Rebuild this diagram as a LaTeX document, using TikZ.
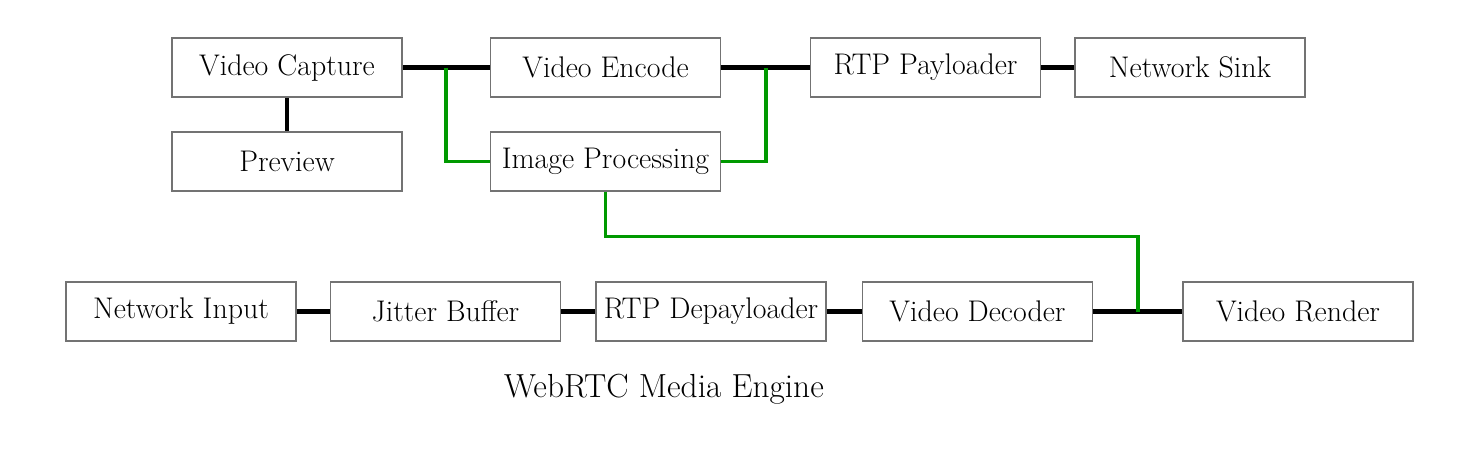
\documentclass[tikz,border=0pt]{standalone}
\usepackage{fontspec}
\begin{document}
\begin{tikzpicture}[x=0.02cm,y=-0.02cm,
  blk/.style={draw=black!55,line width=0.9pt,minimum width=4.6cm,minimum height=1.18cm,inner sep=0pt,font=\fontsize{17}{20}\selectfont},
  conn/.style={line width=2.4pt,black},
  gconn/.style={line width=1.8pt,green!60!black}]
\useasboundingbox (0,0) rectangle (1467,453);
\node[blk] (vc) at (287,67.5) {Video Capture};
\node[blk] (ve) at (605.5,67.5) {Video Encode};
\node[blk] (rp) at (925.5,67.5) {RTP Payloader};
\node[blk] (ns) at (1190,67.5) {Network Sink};
\node[blk] (pv) at (287,161.5) {Preview};
\node[blk] (ip) at (605.5,161.5) {Image Processing};
\node[blk] (ni) at (181,311.5) {Network Input};
\node[blk] (jb) at (445.5,311.5) {Jitter Buffer};
\node[blk] (rd) at (711,311.5) {RTP Depayloader};
\node[blk] (vd) at (977.5,311.5) {Video Decoder};
\node[blk] (vr) at (1298,311.5) {Video Render};
\node[font=\fontsize{19}{22}\selectfont] (cap) at (664,389) {WebRTC Media Engine};
\coordinate (j1) at (446,67.5);
\coordinate (j2) at (766,67.5);
\coordinate (j3) at (1138,311.5);
\draw[conn] (vc) -- (ve);
\draw[conn] (ve) -- (rp);
\draw[conn] (rp) -- (ns);
\draw[conn] (vc) -- (pv);
\draw[conn] (ni) -- (jb);
\draw[conn] (jb) -- (rd);
\draw[conn] (rd) -- (vd);
\draw[conn] (vd) -- (vr);
\draw[gconn] (j1) |- (ip.west);
\draw[gconn] (ip.east) -| (j2);
\draw[gconn] (ip.south) -- ++(0,45) -| (j3);
\end{tikzpicture}
\end{document}
